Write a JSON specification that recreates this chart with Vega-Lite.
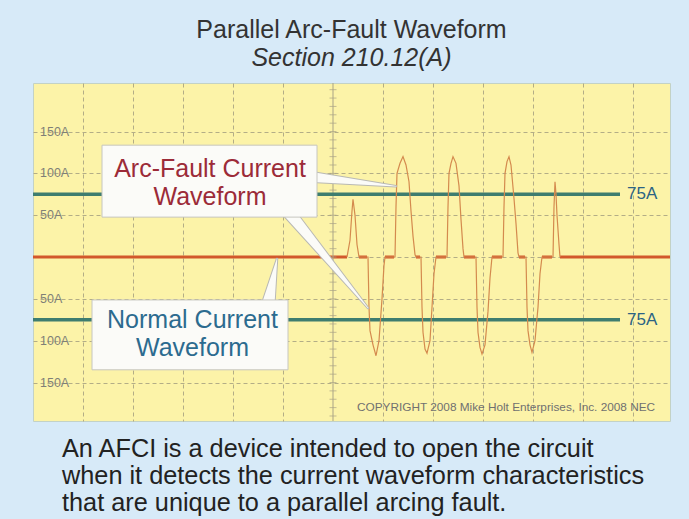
{
  "$schema": "https://vega.github.io/schema/vega-lite/v6.json",
  "width": 637,
  "height": 338,
  "autosize": {"type": "none"},
  "padding": {"left": 33, "top": 83, "right": 19, "bottom": 98},
  "background": "#d7eaf8",
  "config": {
    "view": {"fill": "#fcf3a8", "stroke": "#c3d2c6", "strokeWidth": 1},
    "font": "Liberation Sans"
  },
  "title": {
    "text": "Parallel Arc-Fault Waveform",
    "subtitle": "Section 210.12(A)",
    "font": "Liberation Sans",
    "subtitleFont": "Liberation Sans",
    "fontSize": 25,
    "fontWeight": "normal",
    "color": "#333333",
    "subtitleFontSize": 25,
    "subtitleFontStyle": "italic",
    "subtitleColor": "#333333",
    "subtitlePadding": 3,
    "offset": 12,
    "anchor": "middle"
  },
  "datasets": {
    "one": [{"k": 1}],
    "wave": [
      {"t": 0.28, "i": 0}, {"t": 0.34, "i": 20}, {"t": 0.38, "i": 55}, {"t": 0.40, "i": 69}, {"t": 0.44, "i": 50}, {"t": 0.48, "i": 15}, {"t": 0.52, "i": 0}, {"t": 0.68, "i": 0},
      {"t": 0.70, "i": 0}, {"t": 0.72, "i": -60}, {"t": 0.74, "i": -88}, {"t": 0.80, "i": -105}, {"t": 0.86, "i": -118}, {"t": 0.92, "i": -100}, {"t": 0.98, "i": -50}, {"t": 1.02, "i": -10}, {"t": 1.04, "i": 0}, {"t": 1.22, "i": 0},
      {"t": 1.24, "i": 0}, {"t": 1.26, "i": 60}, {"t": 1.28, "i": 100}, {"t": 1.34, "i": 112}, {"t": 1.40, "i": 120}, {"t": 1.46, "i": 110}, {"t": 1.52, "i": 90}, {"t": 1.56, "i": 55}, {"t": 1.60, "i": 25}, {"t": 1.64, "i": 3}, {"t": 1.66, "i": 0}, {"t": 1.74, "i": 0},
      {"t": 1.76, "i": 0}, {"t": 1.78, "i": -60}, {"t": 1.80, "i": -90}, {"t": 1.84, "i": -110}, {"t": 1.88, "i": -115}, {"t": 1.94, "i": -100}, {"t": 1.98, "i": -60}, {"t": 2.02, "i": -20}, {"t": 2.06, "i": 0}, {"t": 2.26, "i": 0},
      {"t": 2.28, "i": 0}, {"t": 2.30, "i": 60}, {"t": 2.32, "i": 100}, {"t": 2.36, "i": 112}, {"t": 2.40, "i": 120}, {"t": 2.46, "i": 112}, {"t": 2.52, "i": 85}, {"t": 2.56, "i": 45}, {"t": 2.60, "i": 10}, {"t": 2.62, "i": 0}, {"t": 2.84, "i": 0},
      {"t": 2.86, "i": 0}, {"t": 2.88, "i": -60}, {"t": 2.90, "i": -90}, {"t": 2.94, "i": -108}, {"t": 2.98, "i": -116}, {"t": 3.04, "i": -105}, {"t": 3.10, "i": -65}, {"t": 3.14, "i": -25}, {"t": 3.18, "i": 0}, {"t": 3.38, "i": 0},
      {"t": 3.40, "i": 0}, {"t": 3.42, "i": 60}, {"t": 3.44, "i": 100}, {"t": 3.48, "i": 114}, {"t": 3.52, "i": 120}, {"t": 3.56, "i": 110}, {"t": 3.62, "i": 70}, {"t": 3.66, "i": 40}, {"t": 3.70, "i": 5}, {"t": 3.72, "i": 0}, {"t": 3.84, "i": 0},
      {"t": 3.86, "i": 0}, {"t": 3.88, "i": -60}, {"t": 3.90, "i": -88}, {"t": 3.94, "i": -105}, {"t": 3.98, "i": -114}, {"t": 4.04, "i": -100}, {"t": 4.10, "i": -60}, {"t": 4.14, "i": -20}, {"t": 4.18, "i": 0}, {"t": 4.38, "i": 0},
      {"t": 4.40, "i": 0}, {"t": 4.42, "i": 60}, {"t": 4.44, "i": 90}, {"t": 4.46, "i": 75}, {"t": 4.48, "i": 50}, {"t": 4.52, "i": 15}, {"t": 4.54, "i": 0}
    ],
    "flats": [
      {"t0": -6.0, "t1": 0.28},
      {"t0": 0.52, "t1": 0.68},
      {"t0": 1.04, "t1": 1.22},
      {"t0": 1.66, "t1": 1.74},
      {"t0": 2.06, "t1": 2.26},
      {"t0": 2.62, "t1": 2.84},
      {"t0": 3.18, "t1": 3.38},
      {"t0": 3.72, "t1": 3.84},
      {"t0": 4.18, "t1": 4.38},
      {"t0": 4.54, "t1": 6.74}
    ],
    "limits": [
      {"i": 75, "label": "75A"},
      {"i": -75, "label": "75A"}
    ],
    "ylabels": [
      {"i": 150, "label": "150A"},
      {"i": 100, "label": "100A"},
      {"i": 50, "label": "50A"},
      {"i": -50, "label": "50A"},
      {"i": -100, "label": "100A"},
      {"i": -150, "label": "150A"}
    ],
    "cticks": [
      {"i": -190}, {"i": -180}, {"i": -170}, {"i": -160}, {"i": -150}, {"i": -140}, {"i": -130}, {"i": -120}, {"i": -110}, {"i": -100},
      {"i": -90}, {"i": -80}, {"i": -70}, {"i": -60}, {"i": -50}, {"i": -40}, {"i": -30}, {"i": -20}, {"i": -10}, {"i": 0},
      {"i": 10}, {"i": 20}, {"i": 30}, {"i": 40}, {"i": 50}, {"i": 60}, {"i": 70}, {"i": 80}, {"i": 90}, {"i": 100},
      {"i": 110}, {"i": 120}, {"i": 130}, {"i": 140}, {"i": 150}, {"i": 160}, {"i": 170}, {"i": 180}, {"i": 190}, {"i": 200}
    ],
    "pointers": [
      {"id": "a", "t": -0.40, "i": 95.5, "w": 10},
      {"id": "a", "t": 1.26, "i": 84.7, "w": 0.5},
      {"id": "b", "t": -0.92, "i": 56, "w": 12},
      {"id": "b", "t": 0.70, "i": -60.9, "w": 0.5},
      {"id": "c", "t": -1.30, "i": -58, "w": 13},
      {"id": "c", "t": -1.12, "i": -2.4, "w": 0.5}
    ]
  },
  "layer": [
    {
      "data": {"name": "flats"},
      "mark": {"type": "rule", "color": "#d2582b", "strokeWidth": 3},
      "encoding": {
        "x": {
          "field": "t0", "type": "quantitative",
          "scale": {"domain": [-6, 6.74], "nice": false, "zero": false},
          "axis": {"values": [-5, -4, -3, -2, -1, 1, 2, 3, 4, 5, 6], "grid": true, "gridDash": [4, 3], "gridColor": "#b3ad86", "gridWidth": 1, "labels": false, "ticks": false, "domain": false, "title": null}
        },
        "x2": {"field": "t1"},
        "y": {
          "datum": 0, "type": "quantitative",
          "scale": {"domain": [-196, 208], "nice": false, "zero": false},
          "axis": {"values": [-150, -100, -50, 0, 50, 100, 150], "grid": true, "gridDash": [4, 3], "gridColor": "#b3ad86", "gridWidth": 1, "labels": false, "ticks": false, "domain": false, "title": null}
        }
      }
    },
    {
      "data": {"name": "one"},
      "mark": {"type": "rule", "color": "#a9a386", "strokeWidth": 1},
      "encoding": {"x": {"datum": 0, "type": "quantitative"}}
    },
    {
      "data": {"name": "cticks"},
      "mark": {"type": "tick", "orient": "horizontal", "color": "#a9a386", "size": 7, "thickness": 1},
      "encoding": {
        "x": {"datum": 0, "type": "quantitative"},
        "y": {"field": "i", "type": "quantitative"}
      }
    },
    {
      "data": {"name": "limits"},
      "mark": {"type": "rule", "color": "#3e7d6f", "strokeWidth": 3.5},
      "encoding": {
        "x": {"datum": -6, "type": "quantitative"},
        "x2": {"datum": 5.74},
        "y": {"field": "i", "type": "quantitative"}
      }
    },
    {
      "data": {"name": "limits"},
      "mark": {"type": "text", "align": "left", "baseline": "middle", "fontSize": 17, "color": "#2c6384"},
      "encoding": {
        "x": {"datum": 5.88, "type": "quantitative"},
        "y": {"field": "i", "type": "quantitative"},
        "text": {"field": "label"}
      }
    },
    {
      "data": {"name": "wave"},
      "mark": {"type": "line", "color": "#d48a4e", "strokeWidth": 1.2},
      "encoding": {
        "x": {"field": "t", "type": "quantitative"},
        "y": {"field": "i", "type": "quantitative"}
      }
    },
    {
      "data": {"name": "ylabels"},
      "mark": {"type": "text", "align": "left", "baseline": "middle", "fontSize": 12.5, "color": "#7f7f77"},
      "encoding": {
        "x": {"datum": -5.86, "type": "quantitative"},
        "y": {"field": "i", "type": "quantitative"},
        "text": {"field": "label"}
      }
    },
    {
      "data": {"name": "pointers"},
      "mark": {"type": "trail", "color": "#b9b9b4"},
      "encoding": {
        "x": {"field": "t", "type": "quantitative"},
        "y": {"field": "i", "type": "quantitative"},
        "detail": {"field": "id"},
        "size": {"field": "w", "type": "quantitative", "scale": {"type": "linear", "domain": [0, 13], "range": [2, 15]}, "legend": null}
      }
    },
    {
      "data": {"name": "pointers"},
      "mark": {"type": "trail", "color": "#fbfbf8"},
      "encoding": {
        "x": {"field": "t", "type": "quantitative"},
        "y": {"field": "i", "type": "quantitative"},
        "detail": {"field": "id"},
        "size": {"field": "w", "type": "quantitative", "scale": null, "legend": null}
      }
    },
    {
      "data": {"name": "one"},
      "mark": {"type": "rect", "fill": "#fbfbf8", "stroke": "#c6c6c0", "strokeWidth": 1},
      "encoding": {
        "x": {"datum": -4.62, "type": "quantitative"},
        "x2": {"datum": -0.32},
        "y": {"datum": 133.7, "type": "quantitative"},
        "y2": {"datum": 47.7}
      }
    },
    {
      "data": {"name": "one"},
      "mark": {"type": "rect", "fill": "#fbfbf8", "stroke": "#c6c6c0", "strokeWidth": 1},
      "encoding": {
        "x": {"datum": -4.82, "type": "quantitative"},
        "x2": {"datum": -0.90},
        "y": {"datum": -51.3, "type": "quantitative"},
        "y2": {"datum": -134.8}
      }
    },
    {
      "data": {"name": "one"},
      "mark": {"type": "text", "align": "center", "baseline": "alphabetic", "fontSize": 25, "lineHeight": 28, "color": "#9c2b38"},
      "encoding": {
        "x": {"datum": -2.46, "type": "quantitative"},
        "y": {"datum": 95.5, "type": "quantitative"},
        "text": {"value": ["Arc-Fault Current", "Waveform"]}
      }
    },
    {
      "data": {"name": "one"},
      "mark": {"type": "text", "align": "center", "baseline": "alphabetic", "fontSize": 25, "lineHeight": 28, "color": "#2c6b8f"},
      "encoding": {
        "x": {"datum": -2.81, "type": "quantitative"},
        "y": {"datum": -84.7, "type": "quantitative"},
        "text": {"value": ["Normal Current", "Waveform"]}
      }
    },
    {
      "data": {"name": "one"},
      "mark": {"type": "text", "align": "left", "baseline": "alphabetic", "fontSize": 11.8, "color": "#707070"},
      "encoding": {
        "x": {"datum": 0.48, "type": "quantitative"},
        "y": {"datum": -184, "type": "quantitative"},
        "text": {"value": "COPYRIGHT 2008  Mike Holt Enterprises, Inc. 2008 NEC"}
      }
    },
    {
      "data": {"name": "one"},
      "mark": {"type": "text", "align": "left", "baseline": "alphabetic", "fontSize": 25.3, "lineHeight": 27, "color": "#222222"},
      "encoding": {
        "x": {"datum": -5.42, "type": "quantitative"},
        "y": {"datum": -238.7, "type": "quantitative"},
        "text": {"value": ["An AFCI is a device intended to open the circuit", "when it detects the current waveform characteristics", "that are unique to a parallel arcing fault."]}
      }
    }
  ]
}
